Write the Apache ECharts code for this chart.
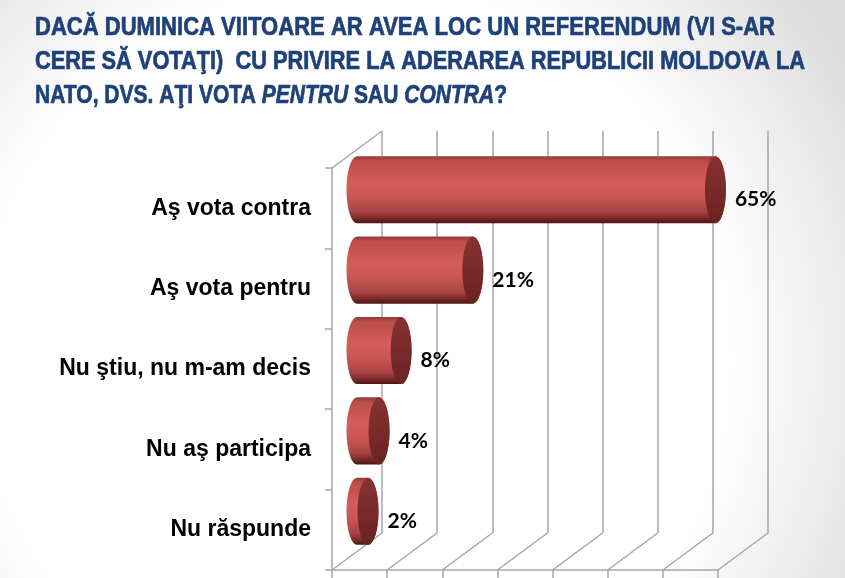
<!DOCTYPE html>
<html>
<head>
<meta charset="utf-8">
<script src="https://cdn.jsdelivr.net/npm/echarts@6/dist/echarts.min.js"></script>
<style>html,body{margin:0;padding:0;background:#fff}#c{width:845px;height:578px}</style>
</head>
<body>
<div id="c"></div>
<script>
const categories = ['Aş vota contra', 'Aş vota pentru', 'Nu ştiu, nu m-am decis', 'Nu aş participa', 'Nu răspunde'];
const values = [65, 21, 8, 4, 2];
const xTicks = [0, 10, 20, 30, 40, 50, 60, 70];
const titleLine1 = 'DACĂ DUMINICA VIITOARE AR AVEA LOC UN REFERENDUM (VI S-AR';
const titleLine2 = 'CERE SĂ VOTAŢI)  CU PRIVIRE LA ADERAREA REPUBLICII MOLDOVA LA';
const titleLine3Parts = [['normal', 'NATO, DVS. AŢI VOTA '], ['italic', 'PENTRU'], ['normal', ' SAU '], ['italic', 'CONTRA'], ['normal', '?']];

const DX = 50, DY = -37; // depth offset of the 3D box
const GRID = '#a6a6a6';
const TFAM = "'Liberation Sans',Arial,sans-serif";
const TSIZE = 26;
const TCOL = '#1D4178';

const mctx = document.createElement('canvas').getContext('2d');
function mw(text, style) {
  mctx.font = style + ' bold ' + TSIZE + 'px ' + TFAM;
  return mctx.measureText(text).width;
}
const s1 = 740 / mw(titleLine1, 'normal');
const s2 = 770 / mw(titleLine2, 'normal');
const w3 = titleLine3Parts.reduce((a, p) => a + mw(p[1], p[0]), 0);
const s3 = 472 / w3;

const chart = echarts.init(document.getElementById('c'), null, {renderer: 'canvas'});

function titleText(text, x, y, sx, fontStyle) {
  return {
    type: 'text', x: x, y: y, scaleX: sx, originX: 0, originY: 0, z: 10,
    style: {
      text: text, fill: TCOL, stroke: TCOL, lineWidth: 0.7, fontFamily: TFAM, fontSize: TSIZE,
      fontWeight: 'bold', fontStyle: fontStyle || 'normal',
      verticalAlign: 'middle', align: 'left'
    }
  };
}
const titleEls = [titleText(titleLine1, 35, 28, s1), titleText(titleLine2, 35, 62, s2)];
let cx3 = 35;
titleLine3Parts.forEach(p => {
  titleEls.push(titleText(p[1], cx3, 96, s3, p[0]));
  cx3 += mw(p[1], p[0]) * s3;
});

const bodyGrad = {
  type: 'linear', x: 0, y: 0, x2: 0, y2: 1,
  colorStops: [
    {offset: 0, color: '#963836'}, {offset: 0.07, color: '#bb4d4a'},
    {offset: 0.4, color: '#d65e5b'}, {offset: 0.62, color: '#ca5552'},
    {offset: 0.83, color: '#a74341'}, {offset: 0.95, color: '#6c2322'},
    {offset: 1, color: '#4c1514'}
  ]
};
const capGrad = {
  type: 'linear', x: 0, y: 0, x2: 0, y2: 1,
  colorStops: [{offset: 0, color: '#873231'}, {offset: 1, color: '#6a2322'}]
};

const option = {
  backgroundColor: {
    type: 'radial', x: 0.42, y: 0.62, r: 1.0,
    colorStops: [{offset: 0, color: '#ffffff'}, {offset: 0.65, color: '#ffffff'}, {offset: 1, color: '#dcdcdc'}]
  },
  animation: false,
  graphic: titleEls,
  grid: [
    {left: 332, top: 168, width: 386, height: 402, outerBoundsMode: 'none'},
    {left: 332 + DX, top: 168 + DY, width: 386, height: 402, outerBoundsMode: 'none'}
  ],
  xAxis: [
    {gridIndex: 0, type: 'value', min: 0, max: 70, interval: 10,
     axisLine: {show: true, lineStyle: {color: GRID, width: 1.5}},
     axisTick: {show: true, length: 9, lineStyle: {color: GRID, width: 1.5}},
     axisLabel: {show: false}, splitLine: {show: false}},
    {gridIndex: 1, type: 'value', min: 0, max: 70, interval: 10,
     axisLine: {show: false}, axisTick: {show: false}, axisLabel: {show: false},
     splitLine: {show: true, lineStyle: {color: GRID, width: 1.5}}}
  ],
  yAxis: [
    {gridIndex: 0, type: 'category', data: categories, inverse: true,
     axisLine: {show: true, lineStyle: {color: GRID, width: 1.5}},
     axisTick: {show: true, length: 7, lineStyle: {color: GRID, width: 1.5}},
     axisLabel: {fontSize: 23, fontWeight: 'bold', fontFamily: "'Liberation Sans', Arial, sans-serif", color: '#000', margin: 21},
     splitLine: {show: false}},
    {gridIndex: 1, type: 'category', data: categories, inverse: true, show: false}
  ],
  series: [
    {
      type: 'custom', xAxisIndex: 0, yAxisIndex: 0, z: 1, clip: false, silent: true,
      data: xTicks.map(v => [v, categories.length - 1]),
      renderItem: function (params, api) {
        const v = api.value(0);
        const p = api.coord([v, categories.length - 1]);
        const bh = api.size([0, 1])[1];
        const yF = p[1] + bh / 2;
        const children = [{
          type: 'line', shape: {x1: p[0], y1: yF, x2: p[0] + DX, y2: yF + DY},
          style: {stroke: GRID, lineWidth: 1.5}
        }];
        if (params.dataIndex === 0) {
          const pt = api.coord([0, 0]);
          const yT = pt[1] - bh / 2;
          children.push({
            type: 'line', shape: {x1: pt[0], y1: yT, x2: pt[0] + DX, y2: yT + DY},
            style: {stroke: GRID, lineWidth: 1.5}
          });
        }
        return {type: 'group', children: children};
      }
    },
    {
      type: 'custom', xAxisIndex: 0, yAxisIndex: 0, z: 5, clip: false,
      data: values.map((v, i) => [v, i]),
      renderItem: function (params, api) {
        const val = api.value(0), idx = api.value(1);
        const p1 = api.coord([val, idx]);
        const p0 = api.coord([0, idx]);
        const bh = api.size([0, 1])[1];
        const h = bh * 0.835;
        const cy = p1[1] + DY / 2;
        const x0 = p0[0] + DX / 2, x1 = p1[0] + DX / 2;
        const top = cy - h / 2, bot = cy + h / 2;
        const rx = 10.5, ry = h / 2;
        const body = 'M' + x0 + ' ' + top + ' L' + x1 + ' ' + top +
          ' A' + rx + ' ' + ry + ' 0 0 1 ' + x1 + ' ' + bot +
          ' L' + x0 + ' ' + bot +
          ' A' + rx + ' ' + ry + ' 0 0 1 ' + x0 + ' ' + top + ' Z';
        const cap = 'M' + x1 + ' ' + top +
          ' A' + rx + ' ' + ry + ' 0 0 1 ' + x1 + ' ' + bot +
          ' A' + rx + ' ' + ry + ' 0 0 1 ' + x1 + ' ' + top + ' Z';
        return {
          type: 'group',
          children: [
            {type: 'path', shape: {pathData: body}, style: {fill: bodyGrad, stroke: null}},
            {type: 'path', shape: {pathData: cap}, style: {fill: capGrad, stroke: null}},
            {type: 'text', x: x1 + rx + 9, y: cy + 10,
             style: {text: val + '%', fill: '#000', fontFamily: "Lato, 'Open Sans', sans-serif", fontWeight: 'bold', fontSize: 21, verticalAlign: 'middle', align: 'left'}}
          ]
        };
      }
    }
  ]
};
chart.setOption(option);
</script>
</body>
</html>
